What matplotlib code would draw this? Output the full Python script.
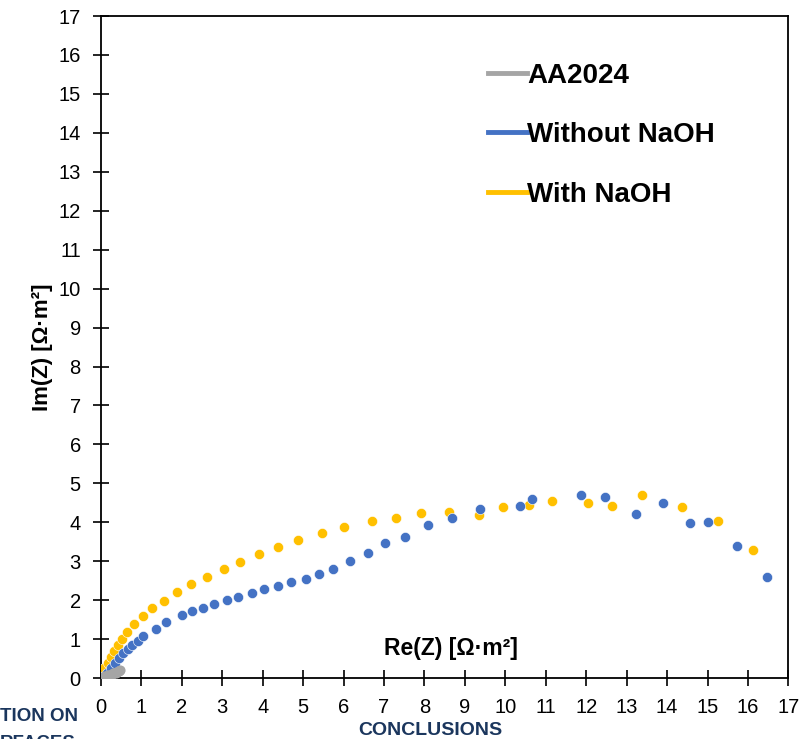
import matplotlib
matplotlib.use("Agg")
import matplotlib.pyplot as plt
from matplotlib.lines import Line2D

plt.rcParams['font.family'] = ['Liberation Sans', 'DejaVu Sans']

# ---- data ----
aa2024_re = [0.00, 0.03, 0.06, 0.09, 0.12, 0.15, 0.18, 0.21, 0.24, 0.27, 0.30, 0.33, 0.36, 0.39, 0.42, 0.45, 0.48]
aa2024_im = [0.00, 0.01, 0.03, 0.04, 0.05, 0.06, 0.07, 0.08, 0.09, 0.10, 0.12, 0.13, 0.14, 0.16, 0.17, 0.19, 0.20]

without_re = [0.03, 0.14, 0.25, 0.35, 0.45, 0.55, 0.66, 0.77, 0.91, 1.05, 1.36, 1.62, 2.00, 2.26,
              2.53, 2.80, 3.11, 3.40, 3.73, 4.04, 4.39, 4.71, 5.06, 5.40, 5.73, 6.16, 6.60, 7.03,
              7.52, 8.08, 8.69, 9.38, 10.37, 10.66, 11.87, 12.46, 13.22, 13.90, 14.56, 15.00,
              15.74, 16.48]
without_im = [0.03, 0.14, 0.25, 0.38, 0.51, 0.63, 0.74, 0.85, 0.95, 1.07, 1.27, 1.43, 1.62, 1.71,
              1.81, 1.90, 2.01, 2.09, 2.18, 2.28, 2.36, 2.46, 2.54, 2.68, 2.79, 3.01, 3.20, 3.46,
              3.62, 3.94, 4.10, 4.33, 4.42, 4.59, 4.70, 4.66, 4.21, 4.49, 3.99, 4.01,
              3.38, 2.60]

with_re = [0.02, 0.08, 0.17, 0.24, 0.32, 0.41, 0.51, 0.65, 0.82, 1.03, 1.27, 1.56, 1.87, 2.22,
           2.62, 3.03, 3.44, 3.91, 4.39, 4.88, 5.46, 6.02, 6.69, 7.30, 7.92, 8.61, 9.35, 9.95,
           10.58, 11.16, 12.05, 12.64, 13.37, 14.37, 15.25, 16.13]
with_im = [0.12, 0.25, 0.39, 0.55, 0.69, 0.85, 0.99, 1.19, 1.39, 1.60, 1.81, 1.99, 2.21, 2.42,
           2.60, 2.81, 2.99, 3.18, 3.36, 3.54, 3.72, 3.89, 4.04, 4.12, 4.23, 4.27, 4.19, 4.38,
           4.44, 4.55, 4.49, 4.43, 4.69, 4.40, 4.02, 3.29]

series_labels = ["AA2024", "Without NaOH", "With NaOH"]
series_colors = ["#A5A5A5", "#4472C4", "#FFC000"]
ticks = list(range(0, 18))

fig = plt.figure(figsize=(8.04, 7.39), dpi=100)
ax = fig.add_axes([0.1256, 0.0825, 0.855, 0.8958])

ax.plot(with_re, with_im, 'o', color=series_colors[2], ms=7.3, mec='white', mew=0.4, zorder=3)
ax.plot(without_re, without_im, 'o', color=series_colors[1], ms=7.3, mec='white', mew=0.4, zorder=4)
ax.plot(aa2024_re, aa2024_im, 'o', color=series_colors[0], ms=7.3, mec='none', zorder=5)

ax.set_xlim(0, 17)
ax.set_ylim(0, 17)
ax.set_xticks(ticks)
ax.set_yticks(ticks)
ax.tick_params(direction='inout', length=11, width=1.2, labelsize=14.5, colors='black')
ax.tick_params(axis='x', pad=9)
ax.tick_params(axis='y', pad=9)
for s in ax.spines.values():
    s.set_linewidth(1.3)
    s.set_color('black')

ax.set_ylabel("Im(Z) [Ω·m²]", fontsize=16, fontweight='bold', labelpad=4)
ax.text(8.66, 0.77, "Re(Z) [Ω·m²]", fontsize=16.5, fontweight='bold', ha='center', va='center')

handles = [Line2D([0], [0], color=c, lw=3.5) for c in series_colors]
leg = ax.legend(handles, series_labels, loc='upper left', bbox_to_anchor=(0.527, 0.967),
                frameon=False, fontsize=20, handlelength=1.4, handletextpad=0.0,
                labelspacing=1.2)
for t in leg.get_texts():
    t.set_fontweight('bold')

fig.text(0.0, 0.030, "TION ON", fontsize=13.5, fontweight='bold', color='#1B365D', ha='left', va='center')
fig.text(0.0, -0.006, "RFACES", fontsize=13.5, fontweight='bold', color='#1B365D', ha='left', va='center')
fig.text(0.535, 0.012, "CONCLUSIONS", fontsize=14, fontweight='bold', color='#1B365D', ha='center', va='center')

fig.savefig("out.png", dpi=100)
